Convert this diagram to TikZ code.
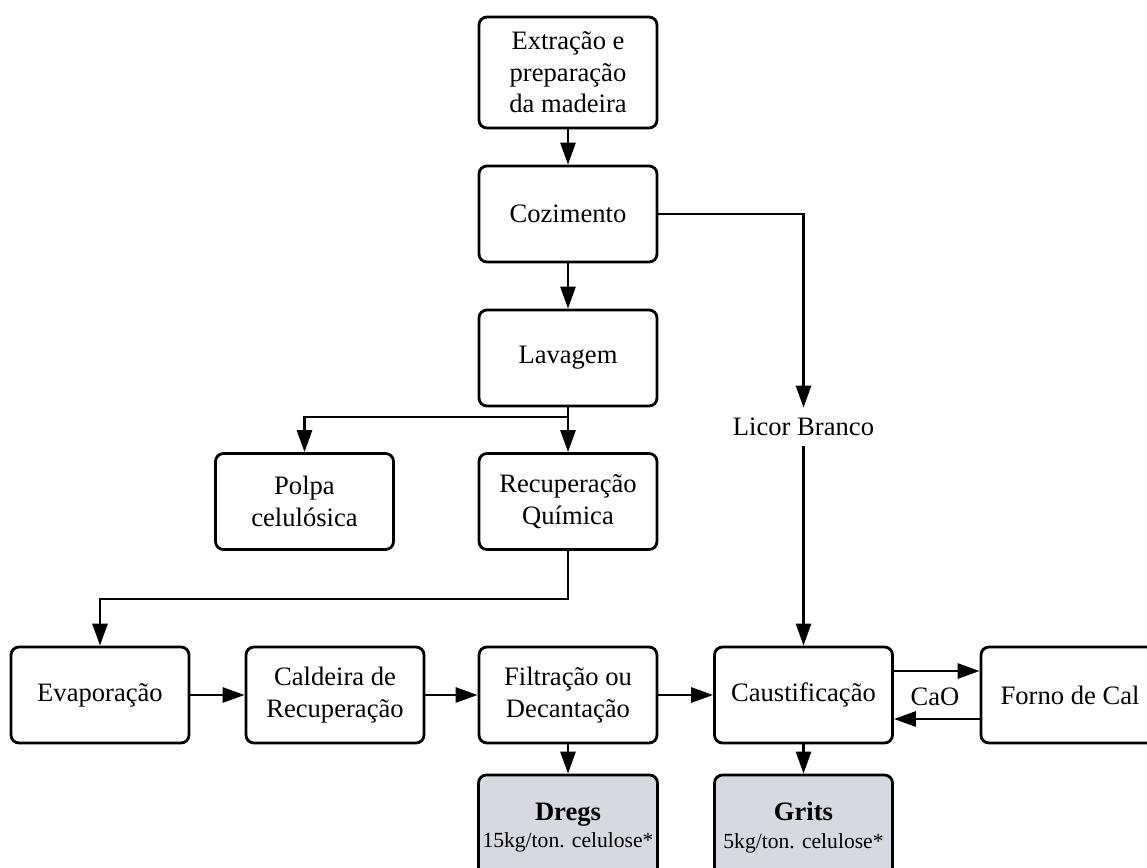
\documentclass[tikz,border=0pt]{standalone}
\usepackage{fontspec}
\setmainfont{Liberation Serif}
\usetikzlibrary{arrows.meta,positioning,calc}
\definecolor{boxgray}{RGB}{214,218,224}
\begin{document}
\begin{tikzpicture}[x=0.5pt,y=-0.5pt,
  every node/.style={font=\fontsize{13.3}{15.8}\selectfont},
  procbox/.style={draw,line width=1.4pt,rounded corners=4pt,minimum width=89pt,minimum height=48pt,align=center,inner sep=2pt},
  wastebox/.style={procbox,fill=boxgray,minimum height=52.5pt},
  arr/.style={line width=1.4pt,-{Triangle[length=11pt,width=7.5pt]}},
  ln/.style={line width=1.4pt}]
\useasboundingbox (0,0) rectangle (1147,868);
\node[procbox,minimum height=55.5pt] (ext) at (568,72.5) {Extração e\\preparação\\da madeira};
\node[procbox] (coz) at (568,214) {Cozimento};
\node[procbox] (lav) at (568,358) {Lavagem};
\node[procbox] (polpa) at (304.5,501.5) {Polpa\\celulósica};
\node[procbox] (recq) at (568,501.5) {Recuperação\\Química};
\node[procbox] (evap) at (100,695) {Evaporação};
\node[procbox] (cald) at (335,695) {Caldeira de\\Recuperação};
\node[procbox] (filt) at (568,695) {Filtração ou\\Decantação};
\node[procbox] (caus) at (803.5,695) {Caustificação};
\node[procbox] (forno) at (1070,695) {Forno de Cal};
\node[wastebox] (dregs) at (568,827.5) {\textbf{Dregs}\\[-2pt]{\fontsize{10.8}{13}\selectfont 15kg/ton. celulose*}};
\node[wastebox] (grits) at (803.5,827.5) {\textbf{Grits}\\[-2pt]{\fontsize{10.8}{13}\selectfont 5kg/ton. celulose*}};
\node[inner sep=5pt] (licor) at (803.5,427) {Licor Branco};
\node (cao) at (935,697) {CaO};
\coordinate (j1) at (568,417);
\draw[arr] (ext) -- (coz);
\draw[arr] (coz) -- (lav);
\draw[arr] (lav) -- (recq);
\draw[arr] (j1) -| (polpa.north);
\draw[arr] (recq.south) -- ++(0,48) -| (evap.north);
\draw[arr] (coz.east) -| (licor.north);
\draw[arr] (licor.south) -- (caus.north);
\draw[arr] (evap) -- (cald);
\draw[arr] (cald) -- (filt);
\draw[arr] (filt) -- (caus);
\draw[arr] ([yshift=12pt]caus.east) -- ([yshift=12pt]caus.east -| forno.west);
\draw[arr] ([yshift=-12pt]caus.east -| forno.west) -- ([yshift=-12pt]caus.east);
\draw[arr] (filt) -- (dregs);
\draw[arr] (caus) -- (grits);
\end{tikzpicture}
\end{document}
